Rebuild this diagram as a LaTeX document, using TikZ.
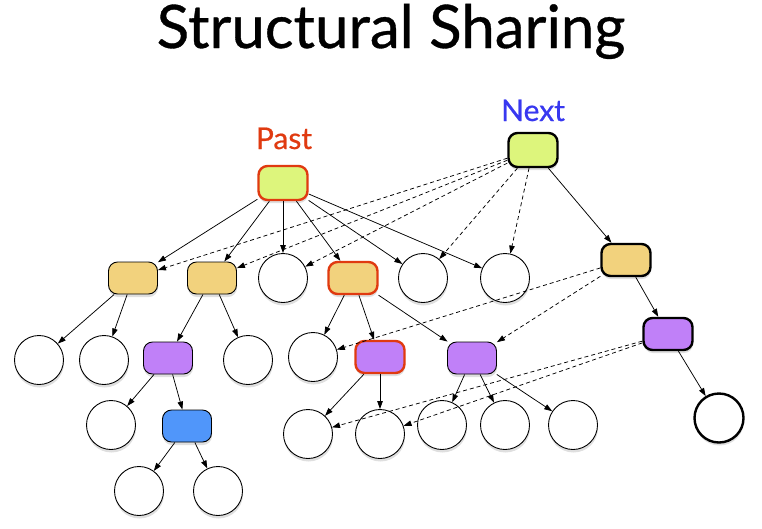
\documentclass[tikz,border=0pt]{standalone}
\usepackage{fontspec}
\setmainfont{Lato}
\newfontfamily\heavyfont[FakeBold=0.6]{Lato}
\usetikzlibrary{arrows.meta,shadows}
\definecolor{lime}{HTML}{DDF57C}
\definecolor{orng}{HTML}{F2D27D}
\definecolor{purp}{HTML}{C080F8}
\definecolor{blu}{HTML}{5096FA}
\definecolor{redb}{HTML}{E03A10}
\definecolor{nextblue}{HTML}{3838F0}
\tikzset{
  shd/.style={drop shadow={opacity=0.25,shadow xshift=0.5pt,shadow yshift=-3pt}},
  boxnode/.style={shd,draw=black,line width=0.9pt,rectangle,rounded corners=9pt,minimum width=49pt,minimum height=32pt,inner sep=0pt},
  circnode/.style={shd,draw=black,line width=0.9pt,circle,fill=white,minimum size=49pt,inner sep=0pt},
  redrim/.style={draw=redb,line width=2.4pt},
  newrim/.style={draw=black,line width=2.4pt},
  edge/.style={draw=black,line width=0.75pt,-{Triangle[length=8pt,width=5.5pt]}},
  share/.style={edge,dash pattern=on 4pt off 3pt},
}
\begin{document}
\begin{tikzpicture}[x=1pt,y=-1pt]
\useasboundingbox (0,0) rectangle (762,528);
\node[anchor=base,font=\heavyfont\fontsize{60}{60}\selectfont] (title) at (391,48) {Structural Sharing};
\node[anchor=base,text=redb,font=\heavyfont\fontsize{30}{30}\selectfont] (pastlbl) at (284,149) {Past};
\node[anchor=base,text=nextblue,font=\heavyfont\fontsize{30}{30}\selectfont] (nextlbl) at (533,121) {Next};
% roots
\node[boxnode,fill=lime,redrim,minimum height=34pt] (past) at (283,183) {};
\node[boxnode,fill=lime,newrim,minimum height=34pt] (next) at (533,150) {};
% level 1
\node[boxnode,fill=orng] (a) at (133,278) {};
\node[boxnode,fill=orng] (b) at (212,278) {};
\node[circnode] (c) at (283,278) {};
\node[boxnode,fill=orng,redrim] (d) at (353,278) {};
\node[circnode] (e) at (423,278) {};
\node[circnode] (f) at (505,278) {};
\node[boxnode,fill=orng,newrim] (g) at (626,260) {};
% level 2
\node[circnode] (c1) at (39,360) {};
\node[circnode] (c2) at (104,360) {};
\node[boxnode,fill=purp] (h) at (168,358) {};
\node[circnode] (c3) at (248,360) {};
\node[circnode] (c4) at (313,357) {};
\node[boxnode,fill=purp,redrim] (i) at (380,357) {};
\node[boxnode,fill=purp] (j) at (472,358) {};
\node[boxnode,fill=purp,newrim] (k) at (668,334) {};
% level 3
\node[circnode] (c5) at (111,425) {};
\node[boxnode,fill=blu] (l) at (187,426) {};
\node[circnode] (c6) at (308,434) {};
\node[circnode] (c7) at (380,434) {};
\node[circnode] (c8) at (442,425) {};
\node[circnode] (c9) at (505,425) {};
\node[circnode] (c10) at (573,425) {};
\node[circnode,line width=2.4pt] (c11) at (719,418) {};
% level 4
\node[circnode] (c12) at (139,491) {};
\node[circnode] (c13) at (218,491) {};
% solid edges
\foreach \t in {a,b,c,d,e,f} \draw[edge] (past) -- (\t);
\draw[edge] (a) -- (c1);
\draw[edge] (a) -- (c2);
\draw[edge] (b) -- (h);
\draw[edge] (b) -- (c3);
\draw[edge] (h) -- (c5);
\draw[edge] (h) -- (l);
\draw[edge] (l) -- (c12);
\draw[edge] (l) -- (c13);
\draw[edge] (d) -- (c4);
\draw[edge] (d) -- (i);
\draw[edge] (d) -- (j);
\draw[edge] (i) -- (c6);
\draw[edge] (i) -- (c7);
\draw[edge] (j) -- (c8);
\draw[edge] (j) -- (c9);
\draw[edge] (j) -- (c10);
\draw[edge] (next) -- (g);
\draw[edge] (g) -- (k);
\draw[edge] (k) -- (c11);
% shared (dashed) edges
\foreach \t in {a,b,c,e,f} \draw[share] (next) -- (\t);
\draw[share] (g) -- (c4);
\draw[share] (g) -- (j);
\draw[share] (k) -- (c6);
\draw[share] (k) -- (c7);
\end{tikzpicture}
\end{document}
